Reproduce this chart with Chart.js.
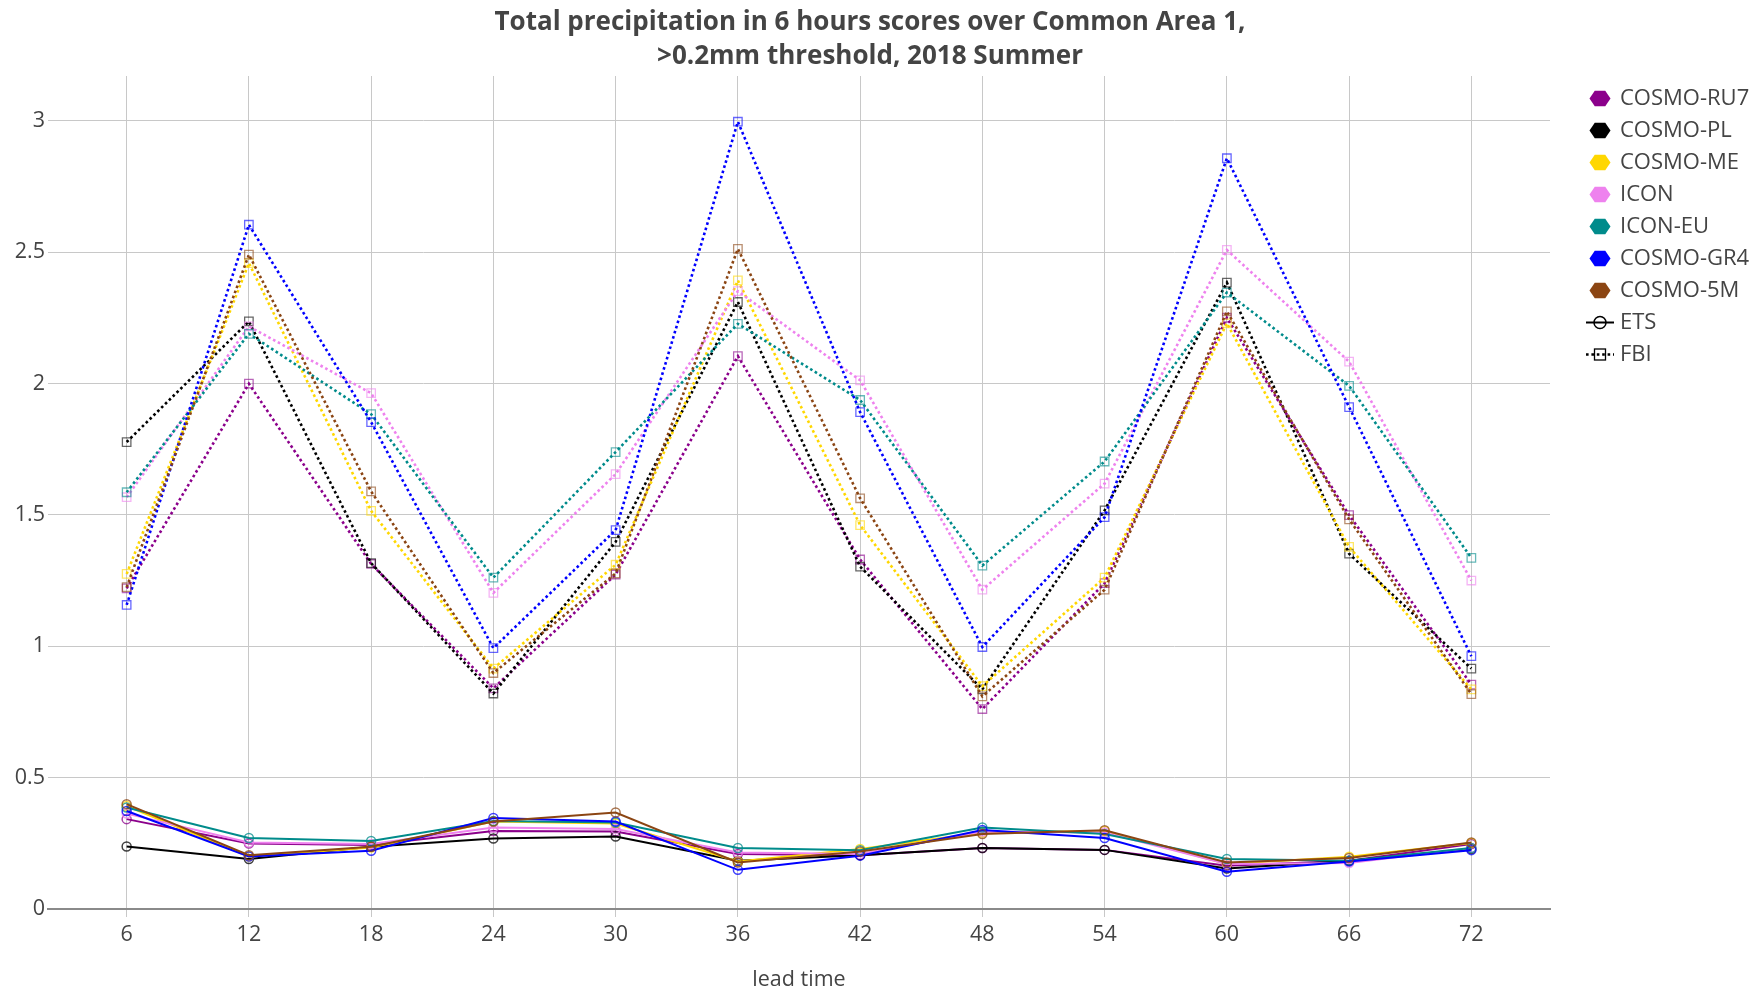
<!DOCTYPE html>
<html>
<head>
<meta charset="utf-8">
<script src="https://cdn.jsdelivr.net/npm/chart.js@4.4.1/dist/chart.umd.min.js"></script>
<style>
  body { margin: 0; background: #fff; }
  #wrap { width: 1764px; height: 990px; }
</style>
</head>
<body>
<div id="wrap"><canvas id="chart" width="1764" height="990"></canvas></div>
<script>
// lead times on the x axis
var leadTimes = [6, 12, 18, 24, 30, 36, 42, 48, 54, 60, 66, 72];
var yTicks = [0, 0.5, 1, 1.5, 2, 2.5, 3];

// models, in legend order, and their colours
var models = ['COSMO-RU7', 'COSMO-PL', 'COSMO-ME', 'ICON', 'ICON-EU', 'COSMO-GR4', 'COSMO-5M'];
var modelColors = ['#8b008b', '#000000', '#ffd700', '#ee82ee', '#008b8b', '#0000ff', '#8b4513'];

// ETS scores (solid lines)
var etsRU7  = [0.342, 0.249, 0.244, 0.297, 0.295, 0.209, 0.205, 0.232, 0.225, 0.165, 0.184, 0.247];
var etsPL   = [0.238, 0.190, 0.237, 0.268, 0.276, 0.184, 0.205, 0.232, 0.225, 0.154, 0.184, 0.228];
var etsME   = [0.392, 0.200, 0.234, 0.333, 0.325, 0.181, 0.228, 0.291, 0.297, 0.171, 0.199, 0.251];
var etsICON = [0.363, 0.253, 0.247, 0.310, 0.304, 0.215, 0.209, 0.295, 0.291, 0.171, 0.175, 0.232];
var etsEU   = [0.386, 0.270, 0.259, 0.335, 0.329, 0.232, 0.224, 0.310, 0.285, 0.190, 0.184, 0.232];
var etsGR4  = [0.373, 0.200, 0.222, 0.346, 0.333, 0.149, 0.203, 0.301, 0.270, 0.142, 0.181, 0.224];
var ets5M   = [0.399, 0.205, 0.237, 0.333, 0.367, 0.177, 0.219, 0.285, 0.300, 0.177, 0.194, 0.253];

// FBI scores (dotted lines)
var fbiRU7  = [1.220, 1.999, 1.313, 0.840, 1.273, 2.104, 1.330, 0.761, 1.240, 2.250, 1.499, 0.854];
var fbiPL   = [1.777, 2.236, 1.316, 0.820, 1.397, 2.310, 1.303, 0.836, 1.517, 2.384, 1.352, 0.915];
var fbiME   = [1.275, 2.458, 1.515, 0.915, 1.310, 2.392, 1.461, 0.848, 1.261, 2.229, 1.378, 0.836];
var fbiICON = [1.567, 2.217, 1.963, 1.203, 1.655, 2.351, 2.012, 1.215, 1.619, 2.508, 2.083, 1.250];
var fbiEU   = [1.586, 2.189, 1.883, 1.261, 1.739, 2.227, 1.937, 1.307, 1.703, 2.346, 1.991, 1.336];
var fbiGR4  = [1.157, 2.604, 1.853, 0.993, 1.442, 2.996, 1.891, 0.997, 1.491, 2.857, 1.910, 0.962];
var fbi5M   = [1.225, 2.490, 1.589, 0.898, 1.277, 2.512, 1.563, 0.809, 1.215, 2.274, 1.483, 0.818];

var etsData = [etsRU7, etsPL, etsME, etsICON, etsEU, etsGR4, ets5M];
var fbiData = [fbiRU7, fbiPL, fbiME, fbiICON, fbiEU, fbiGR4, fbi5M];

var titleLines = ['Total precipitation in 6 hours scores over Common Area 1,', '>0.2mm threshold, 2018 Summer'];
var textColor = '#444';
var gridColor = '#c8c8c8';
var font = '"Open Sans", sans-serif';

// turn a hex colour into rgba with alpha
function fade(hex, a) {
    var n = parseInt(hex.slice(1), 16);
    return 'rgba(' + (n >> 16) + ',' + ((n >> 8) & 255) + ',' + (n & 255) + ',' + a + ')';
}

function points(values) {
    return leadTimes.map(function (t, j) { return { x: t, y: values[j] }; });
}

// building datasets, later models drawn on top
var datasets = [];
models.forEach(function (name, i) {
    datasets.push({
        label: name + ' ETS',
        data: points(etsData[i]),
        borderColor: modelColors[i],
        borderWidth: 2,
        pointStyle: 'circle',
        pointRadius: 4.5,
        pointBorderWidth: 1.5,
        pointBorderColor: fade(modelColors[i], 0.75),
        pointBackgroundColor: 'rgba(0,0,0,0)',
        order: 20 - i
    });
    datasets.push({
        label: name + ' FBI',
        data: points(fbiData[i]),
        borderColor: modelColors[i],
        borderWidth: 2.6,
        borderDash: [2.6, 2.8],
        pointStyle: 'rect',
        pointRadius: 6,
        pointBorderWidth: 1.3,
        pointBorderColor: fade(modelColors[i], 0.6),
        pointBackgroundColor: 'rgba(0,0,0,0)',
        order: 10 - i
    });
});

// draws flat topped hexagon
function hexagon(ctx, cx, cy, r, color) {
    ctx.beginPath();
    for (var k = 0; k < 6; k++) {
        var a = Math.PI / 3 * k;
        var px = cx + r * Math.cos(a);
        var py = cy + r * 0.86 * Math.sin(a);
        if (k === 0) ctx.moveTo(px, py); else ctx.lineTo(px, py);
    }
    ctx.closePath();
    ctx.fillStyle = color;
    ctx.fill();
}

// title and legend are drawn by hand to place them like the original
var decorPlugin = {
    id: 'decor',
    afterDraw: function (chart) {
        var ctx = chart.ctx;
        ctx.save();

        // title
        ctx.fillStyle = textColor;
        ctx.textAlign = 'center';
        ctx.textBaseline = 'middle';
        ctx.font = 'bold 26px ' + font;
        ctx.fillText(titleLines[0], 870, 23);
        ctx.fillText(titleLines[1], 870, 57);

        // legend
        var lx = 1600, tx = 1620, y = 98.5, step = 32;
        ctx.textAlign = 'left';
        ctx.font = '22px ' + font;
        models.forEach(function (name, i) {
            hexagon(ctx, lx, y, 10.5, modelColors[i]);
            ctx.fillStyle = textColor;
            ctx.fillText(name, tx, y);
            y += step;
        });

        // ETS symbol
        ctx.strokeStyle = '#000';
        ctx.lineWidth = 2;
        ctx.beginPath();
        ctx.moveTo(lx - 14, y); ctx.lineTo(lx + 14, y);
        ctx.stroke();
        ctx.lineWidth = 1.5;
        ctx.beginPath();
        ctx.arc(lx, y, 6, 0, Math.PI * 2);
        ctx.stroke();
        ctx.fillStyle = textColor;
        ctx.fillText('ETS', tx, y);
        y += step;

        // FBI symbol
        ctx.lineWidth = 2.6;
        ctx.setLineDash([2.6, 2.8]);
        ctx.beginPath();
        ctx.moveTo(lx - 14, y); ctx.lineTo(lx + 14, y);
        ctx.stroke();
        ctx.setLineDash([]);
        ctx.lineWidth = 1.3;
        ctx.strokeRect(lx - 5.5, y - 5.5, 11, 11);
        ctx.fillText('FBI', tx, y);

        ctx.restore();
    }
};

var ctx = document.getElementById('chart').getContext('2d');
var chart = new Chart(ctx, {
    type: 'line',
    data: { datasets: datasets },
    plugins: [decorPlugin],
    options: {
        responsive: false,
        animation: false,
        devicePixelRatio: 1,
        layout: { padding: { top: 76, right: 214, left: 0, bottom: 0 } },
        plugins: {
            legend: { display: false },
            title: { display: false },
            tooltip: { enabled: false }
        },
        elements: { line: { tension: 0, fill: false } },
        scales: {
            x: {
                type: 'linear',
                min: 2.14,
                max: 75.86,
                afterBuildTicks: function (scale) {
                    scale.ticks = leadTimes.map(function (v) { return { value: v }; });
                },
                afterFit: function (scale) { scale.height = 81; },
                grid: { color: gridColor, lineWidth: 1, tickLength: 8, drawTicks: true },
                border: { color: '#8a8a8a', width: 2 },
                ticks: { color: textColor, font: { family: font, size: 21.5 }, padding: 5, maxRotation: 0,
                    callback: function (v) { return String(v); } },
                title: { display: true, text: 'lead time', color: textColor,
                    font: { family: font, size: 21.5 }, padding: { top: 0, bottom: -3 } }
            },
            y: {
                type: 'linear',
                min: 0,
                max: 3.17,
                afterBuildTicks: function (scale) {
                    scale.ticks = yTicks.map(function (v) { return { value: v }; });
                },
                afterFit: function (scale) { scale.width = 48; },
                grid: {
                    drawTicks: false,
                    color: function (c) { return c.tick && c.tick.value === 0 ? '#8a8a8a' : gridColor; },
                    lineWidth: function (c) { return c.tick && c.tick.value === 0 ? 2 : 1; }
                },
                border: { display: false },
                ticks: { color: textColor, font: { family: font, size: 21.5 }, padding: 3,
                    callback: function (v) { return String(v); } }
            }
        }
    }
});
</script>
</body>
</html>
